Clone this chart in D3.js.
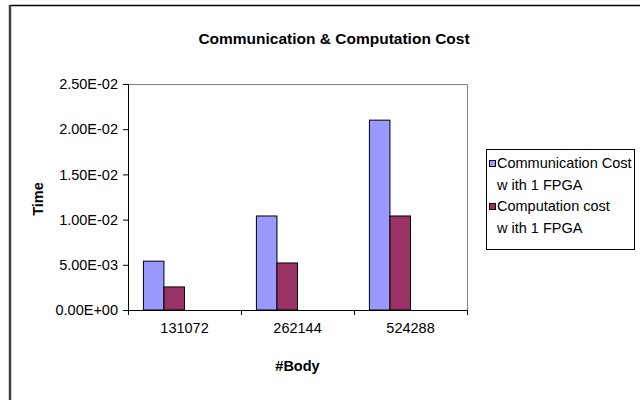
<!DOCTYPE html>
<html>
<head>
<meta charset="utf-8">
<script src="https://cdn.jsdelivr.net/npm/d3@7"></script>
<style>
  html, body { margin: 0; padding: 0; background: #fff; }
  svg { display: block; font-family: "Liberation Sans", Arial, sans-serif; }
</style>
</head>
<body>
<svg id="chart" width="640" height="400"></svg>
<script>
// Problem sizes (number of bodies)
const categories = ["131072", "262144", "524288"];
// Time per run, seconds
const commCost = [5.4e-3, 1.04e-2, 2.1e-2];
const compCost = [2.55e-3, 5.2e-3, 1.04e-2];
const seriesNames = [
  ["Communication Cost", "w ith 1 FPGA"],
  ["Computation cost", "w ith 1 FPGA"]
];
const yTicks = [0, 0.005, 0.01, 0.015, 0.02, 0.025];
const yTickLabels = ["0.00E+00", "5.00E-03", "1.00E-02", "1.50E-02", "2.00E-02", "2.50E-02"];

const colors = ["#9999FF", "#993366"];
const series = [commCost, compCost];

const svg = d3.select("#chart");
const plot = { left: 128, right: 467, top: 84, bottom: 310 };

// Outer chart frame (only the left and top edges fall inside the view)
svg.append("line").attr("x1", 10).attr("x2", 640).attr("y1", 5.5).attr("y2", 5.5)
  .attr("stroke", "#000").attr("stroke-width", 1.5);
svg.append("line").attr("x1", 10).attr("x2", 10).attr("y1", 5).attr("y2", 400)
  .attr("stroke", "#404040").attr("stroke-width", 2.5);

// Scales
const x0 = d3.scaleBand().domain(categories).range([plot.left, plot.right]).padding(0);
// each cluster reserves four slots; the two series fill the first two
const x1 = d3.scaleBand().domain(d3.range(4)).range([0, x0.bandwidth()])
  .paddingInner(0).paddingOuter(0.75);
const y = d3.scaleLinear().domain([0, 0.025]).range([plot.bottom, plot.top]);

// Plot area outline: grey top and right edges
svg.append("path")
  .attr("d", `M${plot.left},${plot.top + 0.5}H${plot.right + 0.5}V${plot.bottom}`)
  .attr("fill", "none").attr("stroke", "#808080").attr("stroke-width", 1);

// Bars
series.forEach((vals, si) => {
  svg.append("g").selectAll("rect")
    .data(vals.map((v, i) => ({ cat: categories[i], v })))
    .join("rect")
    .attr("x", d => x0(d.cat) + x1(si))
    .attr("width", x1.bandwidth())
    .attr("y", d => y(d.v))
    .attr("height", d => y(0) - y(d.v))
    .attr("fill", colors[si])
    .attr("stroke", "#000")
    .attr("stroke-width", 1);
});

// Y axis
const yAxis = d3.axisLeft(y)
  .tickValues(yTicks)
  .tickFormat((d, i) => yTickLabels[i])
  .tickSize(5).tickPadding(5);
const gy = svg.append("g").attr("transform", `translate(${plot.left},0)`).call(yAxis);
gy.select(".domain").attr("stroke", "#000");
gy.selectAll("line").attr("stroke", "#000");
gy.selectAll("text").attr("font-size", "14.5px").attr("fill", "#000")
  .attr("font-family", "'Liberation Sans', Arial, sans-serif");

// X axis: labels centred in each band, tick marks at band boundaries
const gx = svg.append("g").attr("transform", `translate(0,${plot.bottom})`)
  .call(d3.axisBottom(x0).tickSize(0).tickPadding(13));
gx.select(".domain").attr("stroke", "#000");
gx.selectAll("text").attr("font-size", "14.5px").attr("fill", "#000")
  .attr("font-family", "'Liberation Sans', Arial, sans-serif");
const bounds = categories.map(c => x0(c)).concat([x0(categories[categories.length - 1]) + x0.bandwidth()]);
gx.selectAll("line.bound").data(bounds).join("line").attr("class", "bound")
  .attr("x1", d => Math.round(d) + 0.5).attr("x2", d => Math.round(d) + 0.5)
  .attr("y1", 0).attr("y2", 5).attr("stroke", "#000");

// Title and axis titles
svg.append("text").attr("x", 334).attr("y", 44).attr("text-anchor", "middle")
  .attr("font-size", "15.5px").attr("font-weight", "bold")
  .text("Communication & Computation Cost");
svg.append("text").attr("x", (plot.left + plot.right) / 2).attr("y", 371)
  .attr("text-anchor", "middle").attr("font-size", "14.5px").attr("font-weight", "bold")
  .text("#Body");
svg.append("text").attr("transform", `translate(43,${(plot.top + plot.bottom) / 2 + 2}) rotate(-90)`)
  .attr("text-anchor", "middle").attr("font-size", "14.5px").attr("font-weight", "bold")
  .text("Time");

// Legend
const lg = svg.append("g");
lg.append("rect").attr("x", 486.5).attr("y", 149.5).attr("width", 148).attr("height", 100)
  .attr("fill", "#fff").attr("stroke", "#000").attr("stroke-width", 1);
seriesNames.forEach((lines, i) => {
  const top = 158 + i * 43;
  lg.append("rect").attr("x", 489.5).attr("y", top + 2.5).attr("width", 6).attr("height", 6)
    .attr("fill", colors[i]).attr("stroke", "#000").attr("stroke-width", 1);
  lines.forEach((t, j) => {
    lg.append("text").attr("x", 497).attr("y", top + 10 + j * 21.5)
      .attr("font-size", "14.5px").text(t);
  });
});
</script>
</body>
</html>
